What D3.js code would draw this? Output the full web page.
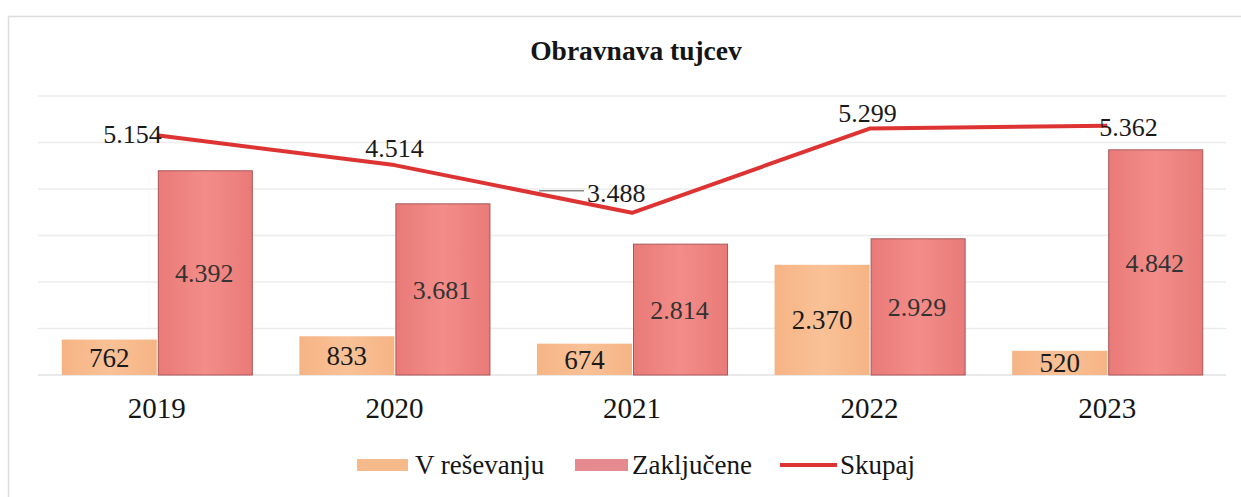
<!DOCTYPE html>
<html>
<head>
<meta charset="utf-8">
<script src="https://cdn.jsdelivr.net/npm/d3@7"></script>
<style>
  body { margin: 0; background: #fff; }
</style>
</head>
<body>
<div id="chart-area"></div>
<script>
// data
let years = ['2019', '2020', '2021', '2022', '2023'];
let vResevanju = [762, 833, 674, 2370, 520];
let zakljucene = [4392, 3681, 2814, 2929, 4842];
let skupaj = [5154, 4514, 3488, 5299, 5362];
let yTicks = [0, 1000, 2000, 3000, 4000, 5000, 6000];
let seriesNames = ['V reševanju', 'Zaključene', 'Skupaj'];

// placement of each total label relative to its point
let totalLabelAnchor = ['end', 'middle', 'start', 'middle', 'start'];
let totalLabelDx = [5, 0, -45, -2, -8];
let totalLabelDy = [8, -8, -11, -7, 10];

let width = 1241;
let height = 497;
let plot = { left: 38, right: 1226, top: 96, bottom: 375 };
let serif = "'Liberation Serif', 'Times New Roman', serif";

let fmt = (v) => d3.format(',')(v).replace(/,/g, '.');

let chart = d3
  .select('#chart-area')
  .append('svg')
  .attr('width', width)
  .attr('height', height)
  .style('font-family', serif);

let defs = chart.append('defs');
let gOrange = defs.append('linearGradient').attr('id', 'g-orange').attr('x1', 0).attr('x2', 1);
gOrange.append('stop').attr('offset', '0%').attr('stop-color', '#f6b484');
gOrange.append('stop').attr('offset', '50%').attr('stop-color', '#f9c197');
gOrange.append('stop').attr('offset', '100%').attr('stop-color', '#f6b484');
let gRed = defs.append('linearGradient').attr('id', 'g-red').attr('x1', 0).attr('x2', 1);
gRed.append('stop').attr('offset', '0%').attr('stop-color', '#e97a78');
gRed.append('stop').attr('offset', '50%').attr('stop-color', '#f38d89');
gRed.append('stop').attr('offset', '100%').attr('stop-color', '#e97a78');

//frame
chart
  .append('rect')
  .attr('x', 8.5)
  .attr('y', 16.5)
  .attr('width', width)
  .attr('height', height)
  .attr('fill', 'none')
  .attr('stroke', '#dcdcdc')
  .attr('stroke-width', 1.5);

let x = d3.scaleBand().domain(years).range([plot.left, plot.right]);
let x1 = d3
  .scaleBand()
  .domain([0, 1])
  .range([0, x.bandwidth()])
  .paddingOuter(0.25);
let y = d3.scaleLinear().domain([0, 6000]).range([plot.bottom, plot.top]);

//gridlines
chart
  .append('g')
  .selectAll('line')
  .data(yTicks)
  .enter()
  .append('line')
  .attr('x1', plot.left)
  .attr('x2', plot.right)
  .attr('y1', (d) => y(d))
  .attr('y2', (d) => y(d))
  .attr('stroke', (d) => (d === 0 ? '#e2e2e2' : '#ececec'))
  .attr('stroke-width', 1.5);

//title
chart
  .append('text')
  .attr('x', 636)
  .attr('y', 60)
  .attr('text-anchor', 'middle')
  .style('font-weight', 'bold')
  .style('font-size', '27.5px')
  .style('fill', '#151515')
  .text('Obravnava tujcev');

//bars
let groups = chart
  .append('g')
  .selectAll('g')
  .data(years)
  .enter()
  .append('g')
  .attr('transform', (d) => `translate(${x(d)},0)`);

groups
  .append('rect')
  .attr('x', x1(0))
  .attr('width', x1.bandwidth())
  .attr('y', (d, i) => y(vResevanju[i]))
  .attr('height', (d, i) => y(0) - y(vResevanju[i]))
  .attr('fill', 'url(#g-orange)');

groups
  .append('rect')
  .attr('x', x1(1) + 1.5)
  .attr('width', x1.bandwidth() - 1)
  .attr('y', (d, i) => y(zakljucene[i]))
  .attr('height', (d, i) => y(0) - y(zakljucene[i]))
  .attr('fill', 'url(#g-red)')
  .attr('stroke', '#a9575a')
  .attr('stroke-width', 1);

groups
  .append('text')
  .attr('x', x1(0) + x1.bandwidth() / 2)
  .attr('y', (d, i) => (y(vResevanju[i]) + y(0)) / 2)
  .attr('dy', '0.35em')
  .attr('text-anchor', 'middle')
  .style('font-size', '27px')
  .style('fill', '#1a1a1a')
  .text((d, i) => fmt(vResevanju[i]));

groups
  .append('text')
  .attr('x', x1(1) + x1.bandwidth() / 2)
  .attr('y', (d, i) => (y(zakljucene[i]) + y(0)) / 2)
  .attr('dy', '0.35em')
  .attr('text-anchor', 'middle')
  .style('font-size', '26px')
  .style('fill', '#333')
  .text((d, i) => fmt(zakljucene[i]));

//year labels
groups
  .append('text')
  .attr('x', x.bandwidth() / 2)
  .attr('y', 418)
  .attr('text-anchor', 'middle')
  .style('font-size', '29px')
  .style('fill', '#151515')
  .text((d) => d);

//total line
let line = d3
  .line()
  .x((d, i) => x(years[i]) + x.bandwidth() / 2)
  .y((d) => y(d));

chart
  .append('path')
  .datum(skupaj)
  .attr('d', line)
  .attr('fill', 'none')
  .attr('stroke', '#dd3333')
  .attr('stroke-width', 4)
  .attr('stroke-linejoin', 'round');

chart
  .append('g')
  .selectAll('text')
  .data(skupaj)
  .enter()
  .append('text')
  .attr('x', (d, i) => x(years[i]) + x.bandwidth() / 2 + totalLabelDx[i])
  .attr('y', (d, i) => y(d) + totalLabelDy[i])
  .attr('text-anchor', (d, i) => totalLabelAnchor[i])
  .style('font-size', '26px')
  .style('fill', '#1a1a1a')
  .text((d) => fmt(d));

//leader line for 2021 total
chart
  .append('line')
  .attr('x1', x(years[2]) + x.bandwidth() / 2 - 93)
  .attr('x2', x(years[2]) + x.bandwidth() / 2 - 48)
  .attr('y1', y(skupaj[2]) - 22)
  .attr('y2', y(skupaj[2]) - 22)
  .attr('stroke', '#8a8a8a')
  .attr('stroke-width', 1.5);

//legend
let legend = chart.append('g').attr('transform', 'translate(357,465)');
let legendX = [0, 218, 423];
seriesNames.forEach((name, i) => {
  let item = legend.append('g').attr('transform', `translate(${legendX[i]},0)`);
  if (i === 0) {
    item.append('rect').attr('x', 0).attr('y', -6).attr('width', 51).attr('height', 12).attr('fill', '#f6b98a');
  } else if (i === 1) {
    item.append('rect').attr('x', 0).attr('y', -6).attr('width', 53).attr('height', 12).attr('fill', '#e58a8f');
  } else {
    item.append('line').attr('x1', 0).attr('x2', 57).attr('y1', 0).attr('y2', 0).attr('stroke', '#dd3333').attr('stroke-width', 4);
  }
  item
    .append('text')
    .attr('x', i === 0 ? 58 : i === 1 ? 57 : 60)
    .attr('y', 0)
    .attr('dy', '0.35em')
    .style('font-size', '27px')
    .style('fill', '#151515')
    .text(name);
});
</script>
</body>
</html>
